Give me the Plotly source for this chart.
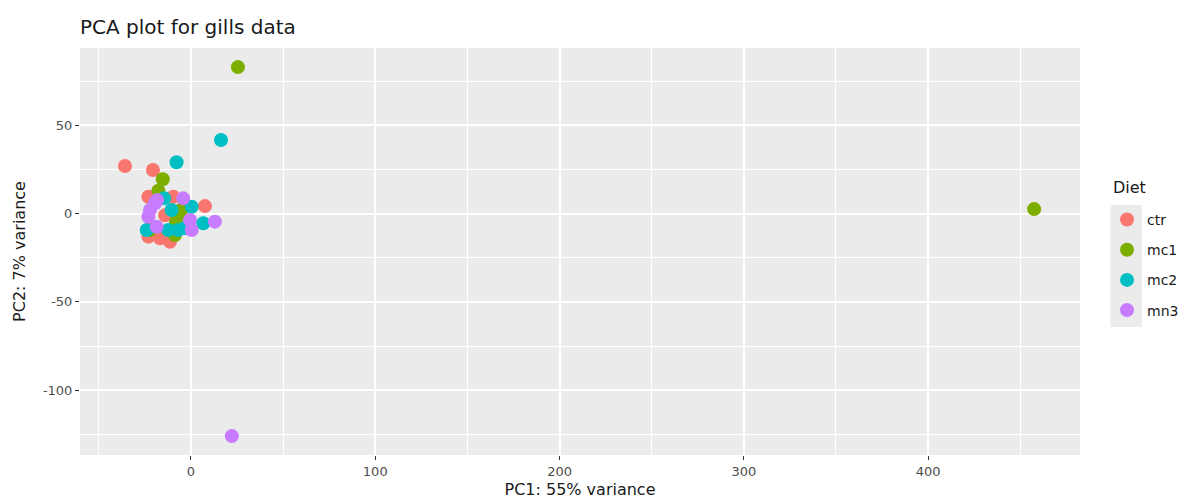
import plotly.graph_objects as go

diets = ["ctr", "mc1", "mc2", "mn3"]
colors = ["#F8766D", "#7CAE00", "#00BFC4", "#C77CFF"]

ctr_pc1 = [-35.8, -20.6, -23.1, -9.6, 7.6, -23.1, -16.8, -11.4, -22.2, -14.0]
ctr_pc2 = [26.9, 24.6, 9.5, 9.5, 4.2, -13.1, -14.0, -16.0, -8.2, -1.0]

mc1_pc1 = [25.5, 457.5, -15.3, -17.7, -6.9, -8.7, -8.1, -22.2, -4.9]
mc1_pc2 = [82.9, 2.5, 19.4, 12.9, -0.8, -12.2, -4.8, -9.3, 2.5]

mc2_pc1 = [16.3, -7.8, -14.5, -10.5, 0.4, 6.7, -24.0, -12.3, -6.9, -3.3]
mc2_pc2 = [41.6, 29.0, 8.6, 2.0, 3.8, -5.5, -9.3, -9.3, -9.3, -8.2]

mn3_pc1 = [22.2, -4.2, -19.5, -23.1, -0.5, 13.0, -18.6, 0.4, -22.2, -18.4]
mn3_pc2 = [-126.0, 8.6, 5.8, -1.8, -3.7, -4.6, -7.5, -9.3, 2.0, 7.6]

series = {
    "ctr": (ctr_pc1, ctr_pc2),
    "mc1": (mc1_pc1, mc1_pc2),
    "mc2": (mc2_pc1, mc2_pc2),
    "mn3": (mn3_pc1, mn3_pc2),
}

x_ticks = [0, 100, 200, 300, 400]
x_ticklabels = ["0", "100", "200", "300", "400"]
y_ticks = [-100, -50, 0, 50]
y_ticklabels = ["-100", "-50", "0", "50"]

FONT = "DejaVu Sans"
W, H = 1187, 491  # page body has an 8px margin

fig = go.Figure()
for name, col in zip(diets, colors):
    xs, ys = series[name]
    fig.add_trace(go.Scatter(
        x=xs, y=ys, mode="markers", name=name, legendgroup=name,
        marker=dict(color=col, size=14, line=dict(width=0)),
    ))

# grey legend key background (ggplot style)
fig.add_shape(type="rect", xref="paper", yref="paper",
              x0=1.0305, x1=1.062, y0=0.3145, y1=0.614,
              fillcolor="#EBEBEB", line=dict(width=0), layer="below")

# legend title
fig.add_annotation(text="Diet", xref="paper", yref="paper",
                   x=1.031, y=(455 - 187) / 407, xanchor="left", yanchor="middle",
                   showarrow=False, font=dict(size=16, color="#1a1a1a", family=FONT))

fig.update_layout(
    width=W, height=H,
    paper_bgcolor="white", plot_bgcolor="#EBEBEB",
    margin=dict(l=72, r=114, t=40, b=44),
    font=dict(family=FONT, color="#1a1a1a"),
    title=dict(text="PCA plot for gills data", x=(80 - 8) / W, xanchor="left",
               y=1 - (27 - 8) / H, yanchor="middle",
               font=dict(size=20, family=FONT, color="#1a1a1a")),
    legend=dict(x=1.026, xanchor="left", y=0.617, yanchor="top",
                font=dict(size=14, color="#1a1a1a"),
                tracegroupgap=9, itemsizing="trace",
                bgcolor="rgba(0,0,0,0)"),
    xaxis=dict(range=[-60.2, 482.4], tickvals=x_ticks, ticktext=x_ticklabels,
               showgrid=True, automargin=False,
               gridcolor="white", gridwidth=1.6, zeroline=False,
               ticks="outside", ticklen=4, tickcolor="#333333",
               tickfont=dict(size=13, color="#4d4d4d"),
               minor=dict(tickvals=[-50, 50, 150, 250, 350, 450], showgrid=True,
                          gridcolor="white", gridwidth=0.7, ticks=""),
               title=dict(text="PC1: 55% variance", font=dict(size=16, color="#1a1a1a"),
                          standoff=6)),
    yaxis=dict(range=[-136.7, 93.7], tickvals=y_ticks, ticktext=y_ticklabels,
               showgrid=True, automargin=False,
               gridcolor="white", gridwidth=1.6, zeroline=False,
               ticks="outside", ticklen=4, tickcolor="#333333",
               tickfont=dict(size=13, color="#4d4d4d"),
               minor=dict(tickvals=[-125, -75, -25, 25, 75], showgrid=True,
                          gridcolor="white", gridwidth=0.7, ticks=""),
               title=dict(text="PC2: 7% variance", font=dict(size=16, color="#1a1a1a"),
                          standoff=13)),
)

fig.write_html("out.html")
